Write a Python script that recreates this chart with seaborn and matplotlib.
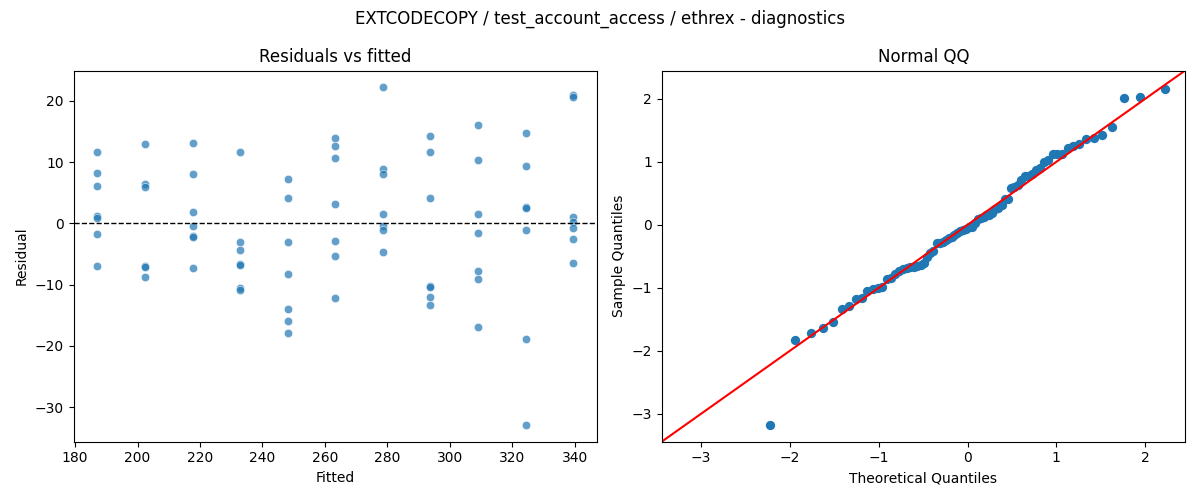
from statistics import NormalDist

import numpy as np
import pandas as pd
import matplotlib
matplotlib.use("Agg")
import matplotlib.pyplot as plt
import seaborn as sns

title = "EXTCODECOPY / test_account_access / ethrex - diagnostics"

# fitted value of each group (x positions in the residual plot)
fitted_levels = [187.1, 202.3, 217.6, 232.8, 248.1, 263.3,
                 278.5, 293.8, 309.0, 324.3, 339.5]

# residuals, one list per fitted level
residual_groups = [
    [11.6, 8.2, 6.1, 1.2, 0.9, -1.8, -7.0],
    [12.9, 6.4, 5.9, -7.0, -7.1, -8.8],
    [13.2, 8.0, 1.8, -0.5, -2.1, -2.3, -7.3],
    [11.6, -3.1, -4.4, -6.7, -6.8, -10.6, -10.9],
    [7.3, 4.2, -3.1, -8.2, -13.9, -16.0, -17.9],
    [14.0, 12.6, 10.6, 3.1, -2.9, -5.4, -12.2],
    [22.2, 8.9, 8.0, 1.6, -0.4, -1.1, -4.7],
    [14.2, 11.6, 4.2, -10.3, -10.4, -12.1, -13.4],
    [16.0, 10.3, 1.6, -1.5, -7.7, -9.0, -17.0],
    [14.7, 9.3, 2.7, 2.5, -1.0, -18.9, -32.9],
    [20.9, 20.7, 1.1, 0.3, -0.8, -2.6, -6.4],
]

rows = [(f, r) for f, grp in zip(fitted_levels, residual_groups) for r in grp]
df = pd.DataFrame(rows, columns=["fitted", "resid"])

# normal QQ of standardized residuals (plotting positions i/(n+1))
n = len(df)
sample_q = np.sort((df["resid"] - df["resid"].mean()) / df["resid"].std(ddof=0))
theo_q = np.array([NormalDist().inv_cdf(i / (n + 1)) for i in range(1, n + 1)])

fig, (ax1, ax2) = plt.subplots(1, 2, figsize=(12, 5), dpi=100)

sns.scatterplot(data=df, x="fitted", y="resid", ax=ax1, alpha=0.7)
ax1.axhline(0, color="black", linestyle="--", linewidth=1)
ax1.set_title("Residuals vs fitted")
ax1.set_xlabel("Fitted")
ax1.set_ylabel("Residual")

sns.scatterplot(x=theo_q, y=sample_q, ax=ax2, s=45, linewidth=0, color="C0")
ax2.margins(0.05)
xl, yl = ax2.get_xlim(), ax2.get_ylim()
ends = [min(xl[0], yl[0]), max(xl[1], yl[1])]
ax2.plot(ends, ends, color="red")
ax2.set_xlim(ends)
ax2.set_ylim(ends)
ax2.set_title("Normal QQ")
ax2.set_xlabel("Theoretical Quantiles")
ax2.set_ylabel("Sample Quantiles")

fig.suptitle(title)
fig.tight_layout()
fig.savefig("out.png")
